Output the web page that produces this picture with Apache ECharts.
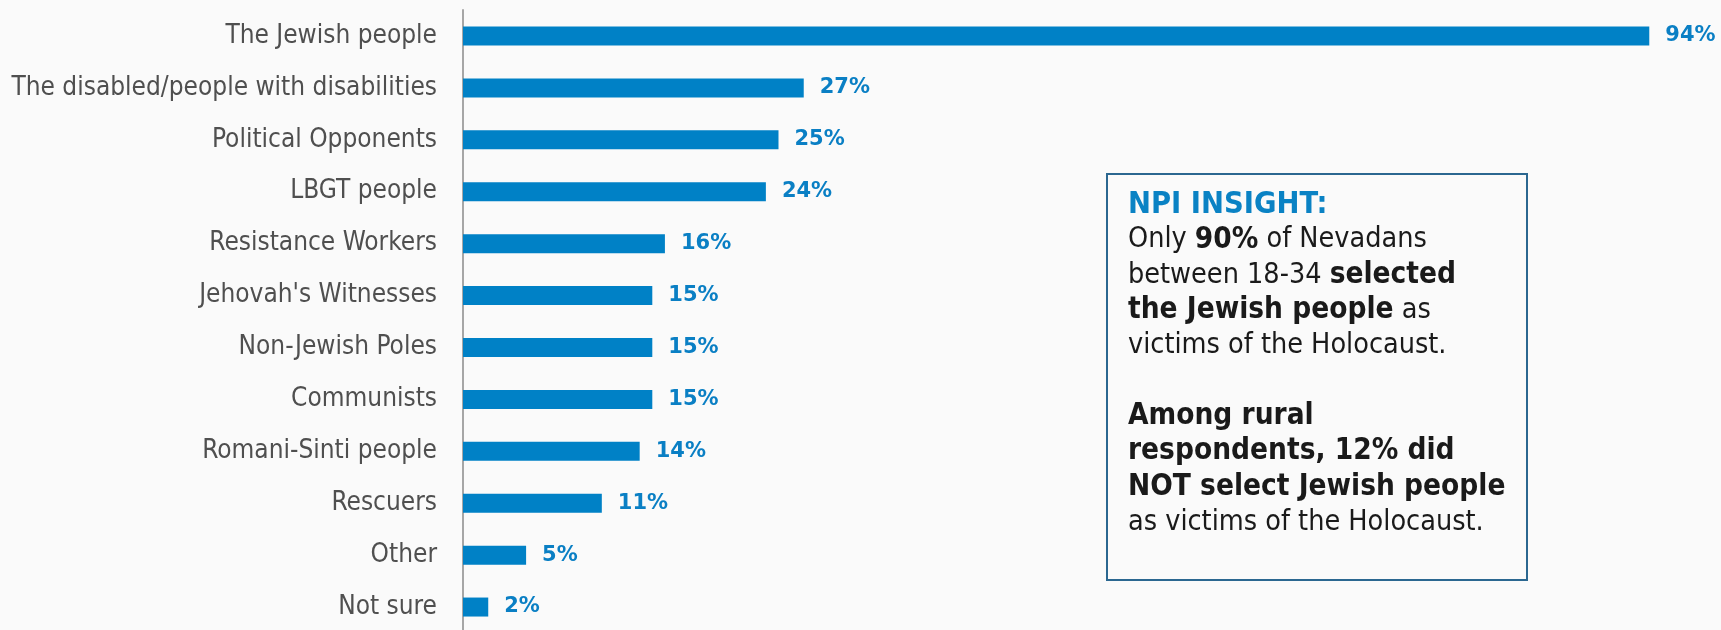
<!DOCTYPE html>
<html>
<head>
<meta charset="utf-8">
<script src="https://cdn.jsdelivr.net/npm/echarts@6/dist/echarts.min.js"></script>
<style>
  html, body { margin: 0; padding: 0; background: #fafafa; }
  #chart { width: 1721px; height: 630px; }
</style>
</head>
<body>
<div id="chart"></div>
<script>
// Groups named as victims of the Holocaust (share of respondents, %)
const categories = [
  'The Jewish people',
  'The disabled/people with disabilities',
  'Political Opponents',
  'LBGT people',
  'Resistance Workers',
  "Jehovah's Witnesses",
  'Non-Jewish Poles',
  'Communists',
  'Romani-Sinti people',
  'Rescuers',
  'Other',
  'Not sure'
];
const values = [94, 27, 25, 24, 16, 15, 15, 15, 14, 11, 5, 2];

// Call-out text, one entry per line: [style, text] pieces
const insightLines = [
  [['t', 'NPI INSIGHT:']],
  [['n', 'Only '], ['b', '90%'], ['n', ' of Nevadans']],
  [['n', 'between 18-34 '], ['b', 'selected']],
  [['b', 'the Jewish people'], ['n', ' as']],
  [['n', 'victims of the Holocaust.']],
  [['n', ' ']],
  [['b', 'Among rural']],
  [['b', 'respondents, 12% did']],
  [['b', 'NOT select Jewish people']],
  [['n', 'as victims of the Holocaust.']]
];

const BLUE = '#0081c6';
const FONT = "'DejaVu Sans Condensed', 'DejaVu Sans', sans-serif";
const LINE_H = 35.3;

const insightText = insightLines
  .map(line => line.map(([s, t]) => '{' + s + '|' + t + '}').join(''))
  .join('\n');

const chart = echarts.init(document.getElementById('chart'), null, { renderer: 'canvas' });

chart.setOption({
  backgroundColor: '#fafafa',
  animation: false,
  grid: {
    left: 463, top: 10, width: 1262, height: 623,
    containLabel: false,
    outerBoundsMode: 'none'
  },
  xAxis: {
    type: 'value',
    min: 0,
    max: 100,
    show: false
  },
  yAxis: {
    type: 'category',
    data: categories,
    inverse: true,
    axisLine: { show: true, lineStyle: { color: '#a6a6a6', width: 2 } },
    axisTick: { show: false },
    splitLine: { show: false },
    axisLabel: {
      margin: 26,
      color: '#4f4f4f',
      fontFamily: FONT,
      fontSize: 26
    }
  },
  series: [{
    type: 'bar',
    data: values,
    barWidth: 19,
    itemStyle: { color: BLUE },
    label: {
      show: true,
      position: 'right',
      distance: 16,
      formatter: p => p.value + '%',
      color: '#0a7fc4',
      fontFamily: "'DejaVu Sans', sans-serif",
      fontWeight: 'bold',
      fontSize: 21
    }
  }],
  graphic: [
    {
      type: 'rect',
      shape: { x: 1107, y: 174, width: 420, height: 406 },
      style: { fill: 'transparent', stroke: '#2b6790', lineWidth: 2 }
    },
    {
      type: 'text',
      x: 1128,
      y: 187,
      style: {
        text: insightText,
        fontFamily: FONT,
        fontSize: 28,
        lineHeight: LINE_H,
        fill: '#1a1a1a',
        rich: {
          t: { fontFamily: FONT, fontSize: 30.5, fontWeight: 'bold', fill: '#0a82c4', lineHeight: LINE_H },
          n: { fontFamily: FONT, fontSize: 28.5, fill: '#1a1a1a', lineHeight: LINE_H },
          b: { fontFamily: FONT, fontSize: 29.5, fontWeight: 'bold', fill: '#1a1a1a', lineHeight: LINE_H }
        }
      }
    }
  ]
});
</script>
</body>
</html>
